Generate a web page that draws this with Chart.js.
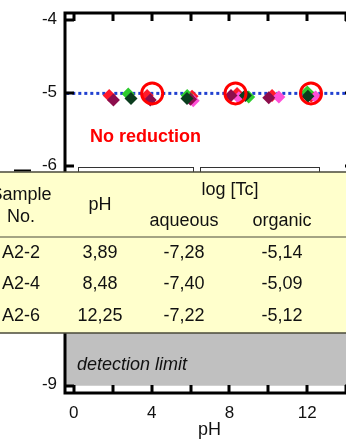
<!DOCTYPE html>
<html>
<head>
<meta charset="utf-8">
<script src="https://cdn.jsdelivr.net/npm/chart.js@4.4.0/dist/chart.umd.min.js"></script>
<style>
  html, body { margin: 0; padding: 0; background: #fff; overflow: hidden; width: 346px; height: 443px; }
  #wrap { position: absolute; left: 0; top: 0; width: 354px; height: 443px; }
  canvas { display: block; }
</style>
</head>
<body>
<div id="wrap"><canvas id="c" width="354" height="443"></canvas></div>
<script>
// Axis ticks
const phTicks = [0, 2, 4, 6, 8, 10, 12, 14];
const phLabelled = [0, 4, 8, 12];
const logTicks = [-4, -5, -6, -7, -8, -9];

// Measured log[Tc] in the organic phase, by series
const redPts      = [[1.82, -5.03], [3.77, -5.03], [6.08, -5.04], [8.39, -5.00], [10.19, -5.03], [12.20, -5.04]];
const pinkPts     = [[6.14, -5.10], [8.48, -5.06], [10.54, -5.05], [12.43, -5.05]];
const lightGreenPts = [[2.80, -5.01], [5.83, -5.03], [8.99, -5.05], [12.00, -4.98]];
const maroonPts   = [[2.04, -5.09], [3.93, -5.09], [6.00, -5.08], [8.08, -5.03], [10.02, -5.06]];
const darkGreenPts = [[2.94, -5.07], [5.82, -5.07], [8.82, -5.03], [12.03, -5.04]];
const circledPts  = [[4.03, -5.00], [8.31, -5.00], [12.19, -5.00]];

// Reference levels
const initialLevel = -5;
const detectionLimitTop = -8;
const detectionLimitBottom = -9;

// Table contents
const tableHead = ['Sample', 'No.', 'pH', 'log [Tc]', 'aqueous', 'organic'];
const tableRows = [
  ['A2-2', '3,89', '-7,28', '-5,14'],
  ['A2-4', '8,48', '-7,40', '-5,09'],
  ['A2-6', '12,25', '-7,22', '-5,12']
];

const FONT = '"Liberation Sans", Arial, sans-serif';
const toXY = arr => arr.map(p => ({ x: p[0], y: p[1] }));

function diamonds(label, pts, color, order) {
  return {
    type: 'scatter', label, data: toXY(pts), order,
    pointStyle: 'rectRot', pointRadius: 6.5, pointHoverRadius: 6.5,
    backgroundColor: color, borderColor: color, borderWidth: 0
  };
}

const overlay = {
  id: 'overlay',
  afterDraw(chart) {
    const ctx = chart.ctx;
    const a = chart.chartArea;
    const xs = chart.scales.x, ys = chart.scales.y;
    ctx.save();

    // frame
    ctx.strokeStyle = '#000';
    ctx.lineWidth = 3;
    ctx.strokeRect(a.left, a.top, a.right - a.left, a.bottom - a.top);

    // inward tick marks
    ctx.lineWidth = 3;
    ctx.beginPath();
    phTicks.forEach(v => {
      const px = Math.round(xs.getPixelForValue(v));
      ctx.moveTo(px, a.bottom); ctx.lineTo(px, a.bottom - 8);
      ctx.moveTo(px, a.top); ctx.lineTo(px, a.top + 8);
    });
    logTicks.forEach(v => {
      const py = Math.round(ys.getPixelForValue(v));
      ctx.moveTo(a.left, py); ctx.lineTo(a.left + 9, py);
      ctx.moveTo(a.right, py); ctx.lineTo(a.right - 9, py);
    });
    ctx.stroke();

    // small dash left of the axis
    ctx.lineWidth = 2;
    ctx.beginPath();
    ctx.moveTo(14, 170.5); ctx.lineTo(31, 170.5);
    ctx.stroke();

    // boxes peeking above the table
    ctx.fillStyle = '#fff';
    ctx.strokeStyle = '#333';
    ctx.lineWidth = 1;
    [[78, 193], [200, 319]].forEach(([x0, x1]) => {
      ctx.fillRect(x0, 167, x1 - x0, 12);
      ctx.strokeRect(x0 + 0.5, 167.5, x1 - x0, 12);
    });

    // table
    const tTop = 172, tBot = 333;
    ctx.fillStyle = '#ffffcc';
    ctx.fillRect(-2, tTop, 360, tBot - tTop);
    ctx.strokeStyle = '#4a4a3a';
    ctx.lineWidth = 1.5;
    ctx.strokeRect(-2, tTop, 360, tBot - tTop);
    ctx.lineWidth = 1.2;
    ctx.beginPath();
    ctx.moveTo(-2, 237); ctx.lineTo(358, 237);
    ctx.stroke();

    ctx.fillStyle = '#111';
    ctx.font = '18px ' + FONT;
    ctx.textAlign = 'center';
    ctx.textBaseline = 'middle';
    ctx.fillText(tableHead[0], 21, 195);
    ctx.fillText(tableHead[1], 21, 217);
    ctx.fillText(tableHead[2], 100, 205);
    ctx.fillText(tableHead[3], 230, 190);
    ctx.fillText(tableHead[4], 184, 221);
    ctx.fillText(tableHead[5], 282, 221);
    const colX = [21, 100, 184, 282];
    const rowY = [253, 284, 316];
    tableRows.forEach((row, i) => {
      row.forEach((cell, j) => ctx.fillText(cell, colX[j], rowY[i]));
    });

    // annotations
    ctx.textAlign = 'left';
    ctx.fillStyle = '#ff0000';
    ctx.font = 'bold 18px ' + FONT;
    ctx.fillText('No reduction', 90, 137);
    ctx.fillStyle = '#111';
    ctx.font = 'italic 18px ' + FONT;
    ctx.fillText('detection limit', 77, 365);

    ctx.restore();
  }
};

new Chart(document.getElementById('c'), {
  type: 'scatter',
  data: {
    datasets: [
      {
        type: 'line', label: 'detection limit',
        data: [{ x: -1, y: detectionLimitTop }, { x: 16, y: detectionLimitTop }],
        fill: { value: detectionLimitBottom }, backgroundColor: '#c0c0c0',
        borderWidth: 0, pointRadius: 0, order: 20
      },
      {
        type: 'line', label: 'initial',
        data: [{ x: -1, y: initialLevel }, { x: 16, y: initialLevel }],
        fill: false, borderColor: '#2040d0', borderWidth: 3, borderDash: [3, 3],
        borderCapStyle: 'butt', pointRadius: 0, order: 15
      },
      diamonds('red', redPts, '#ff1a2a', 9),
      diamonds('pink', pinkPts, '#ff4fd8', 8),
      diamonds('light green', lightGreenPts, '#2ecc2e', 7),
      diamonds('maroon', maroonPts, '#8c0d4c', 5),
      diamonds('dark green', darkGreenPts, '#0b3d1e', 4),
      {
        type: 'scatter', label: 'samples', data: toXY(circledPts), order: 1,
        pointStyle: 'circle', pointRadius: 10.5, pointHoverRadius: 10.5,
        backgroundColor: 'rgba(0,0,0,0)', borderColor: '#ff0000', borderWidth: 3
      }
    ]
  },
  options: {
    responsive: false,
    animation: false,
    devicePixelRatio: 1,
    layout: { autoPadding: false, padding: { top: 13, left: 0, right: 0, bottom: 0 } },
    plugins: { legend: { display: false }, tooltip: { enabled: false } },
    scales: {
      x: {
        type: 'linear', min: -0.45, max: 14.4,
        afterBuildTicks: s => { s.ticks = phTicks.map(v => ({ value: v })); },
        afterFit: s => { s.height = 50; s.paddingLeft = 0; s.paddingRight = 0; },
        grid: { display: false, drawTicks: false },
        border: { display: false },
        ticks: {
          autoSkip: false, maxRotation: 0, padding: 10, color: '#111',
          font: { family: FONT, size: 17 },
          callback: v => phLabelled.includes(v) ? String(v) : ''
        },
        title: { display: true, text: 'pH', color: '#111', font: { family: FONT, size: 18 }, padding: { top: 0, bottom: 2 } }
      },
      y: {
        type: 'linear', min: -9.1, max: -3.9,
        afterBuildTicks: s => { s.ticks = logTicks.map(v => ({ value: v })); },
        afterFit: s => { s.width = 65; s.paddingTop = 0; s.paddingBottom = 0; },
        grid: { display: false, drawTicks: false },
        border: { display: false },
        ticks: { padding: 8, labelOffset: -1, color: '#111', font: { family: FONT, size: 17 } }
      }
    }
  },
  plugins: [overlay]
});
</script>
</body>
</html>
